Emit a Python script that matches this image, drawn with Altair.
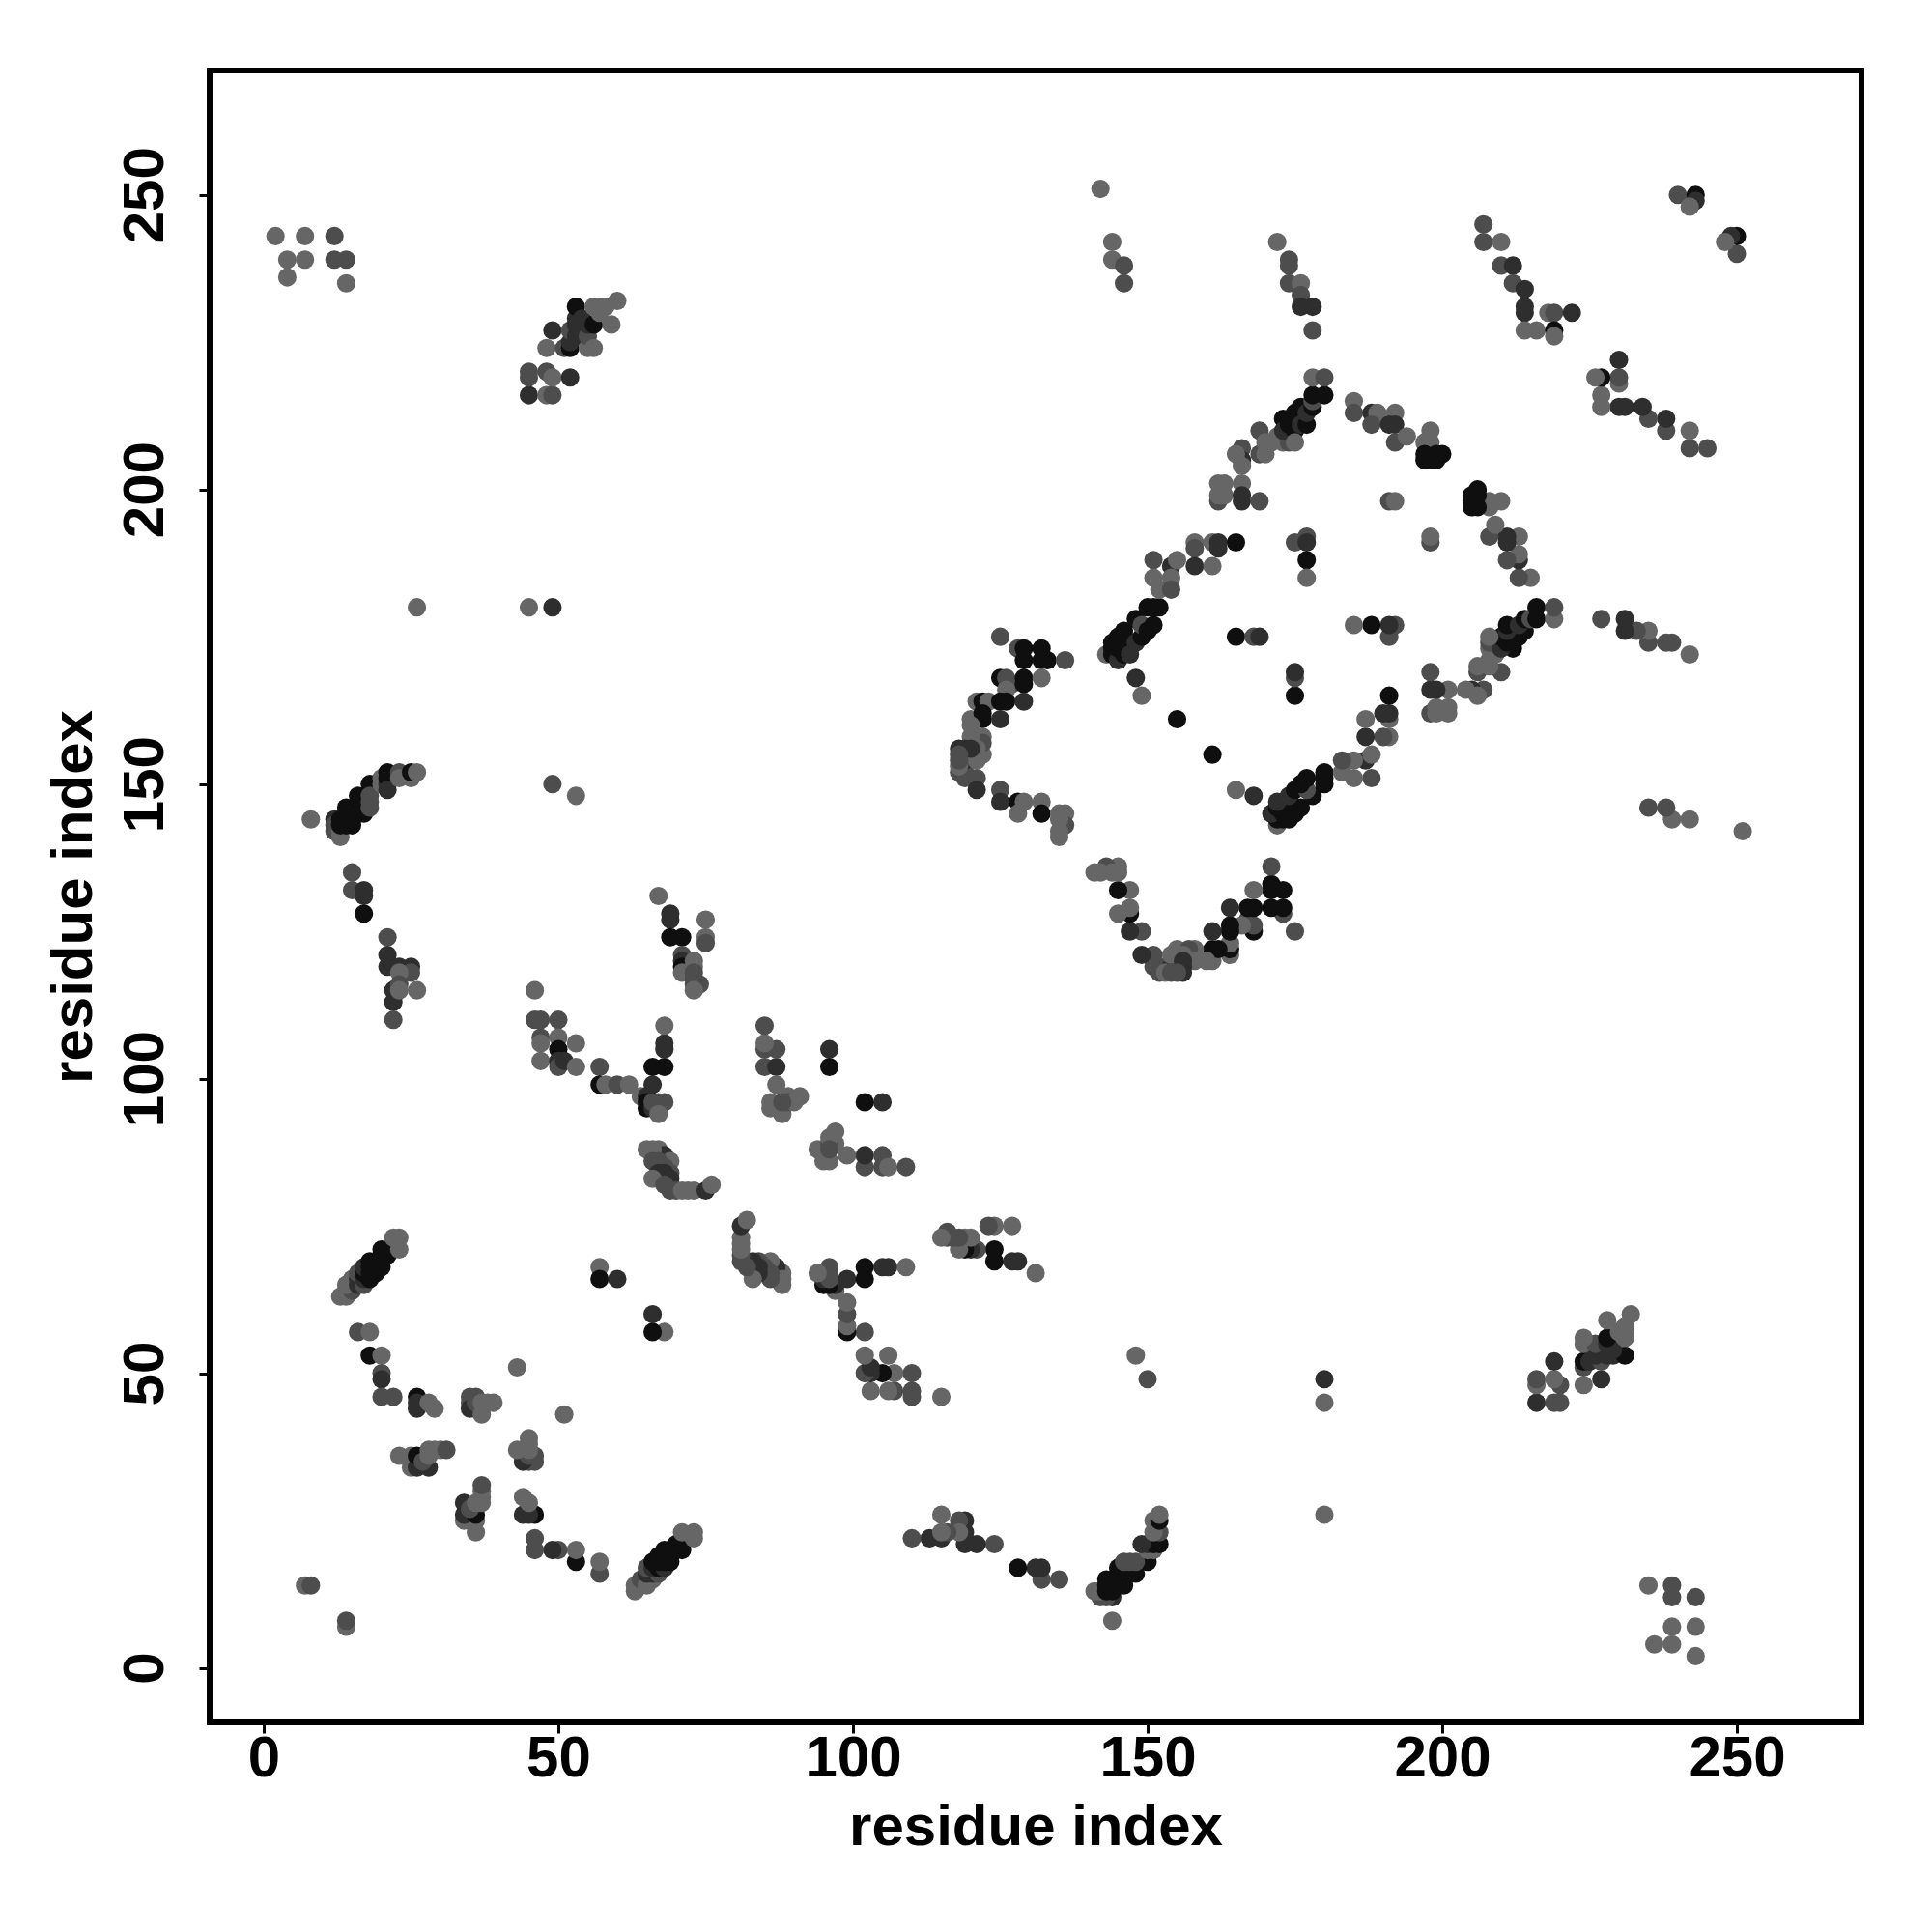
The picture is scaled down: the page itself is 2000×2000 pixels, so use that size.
import altair as alt
import pandas as pd

# contacts (residue i, residue j, shade level); the map is symmetric
corner_a = [(2,243,"L"),(4,239,"L"),(4,236,"L"),(7,243,"L"),(7,239,"L"),(12,243,"M"),(12,239,"M"),(14,239,"M"),(14,235,"L"),(7,14,"L"),(8,14,"M")]
helix_a = [(13,63,"L"),(14,63,"L"),(14,64,"L"),(15,64,"M"),(15,65,"M"),(15,66,"L"),(14,65,"L"),(16,65,"D"),(16,66,"D"),(16,67,"M"),(17,65,"M"),(17,66,"D"),(17,67,"K"),(17,68,"D"),(18,66,"K"),(18,67,"K"),(18,68,"K"),(18,69,"K"),(19,67,"K"),(19,68,"K"),(19,69,"K"),(20,68,"K"),(20,69,"K"),(20,70,"K"),(20,71,"K"),(21,70,"K"),(21,71,"K"),(22,71,"K"),(22,73,"L"),(23,71,"L"),(23,73,"L")]
arc_a = [(16,57,"M"),(18,57,"L"),(18,53,"K"),(20,53,"L"),(20,50,"M"),(20,49,"D"),(20,46,"M"),(22,46,"M"),(26,46,"K"),(26,45,"D"),(26,44,"D"),(28,45,"L"),(29,44,"L"),
         (35,46,"M"),(36,46,"M"),(35,45,"M"),(35,44,"D"),(36,44,"D"),(36,45,"M"),(37,45,"L"),(37,43,"L"),(38,45,"L"),(39,45,"L"),(43,51,"L")]
arc_b = [(23,36,"L"),(25,36,"L"),(25,34,"L"),(26,34,"D"),(26,36,"K"),(28,34,"D"),(27,35,"M"),(28,36,"L"),(28,37,"L"),(29,37,"L"),(30,37,"L"),(31,37,"M")]
pair_a = [(57,68,"L"),(57,66,"K"),(60,66,"D")]
strand_a = [(8,144,"L"),(12,144,"D"),(12,143,"M"),(12,142,"M"),(13,141,"L"),(13,142,"L"),(13,143,"K"),(13,144,"K"),(14,146,"K"),(14,145,"K"),(14,143,"K"),(15,143,"K"),(15,145,"K"),(16,148,"K"),(16,145,"K"),(17,145,"K"),(17,146,"K"),(18,146,"M"),(18,147,"M"),(18,150,"K"),(18,148,"M"),(20,150,"L"),(20,151,"L"),(21,150,"D"),(21,152,"K"),(21,151,"K"),(21,149,"D"),(23,152,"M"),(23,151,"L"),(25,151,"L"),(25,152,"K"),(26,152,"L"),(49,150,"M"),(53,148,"L")]
strand_b = [(15,135,"M"),(15,132,"M"),(17,132,"D"),(17,131,"D"),(17,128,"K"),(21,124,"M"),(21,121,"D"),(21,119,"D"),(23,119,"D"),(25,119,"D"),(25,118,"M"),(23,118,"L"),(22,115,"D"),(22,113,"D"),(22,110,"M"),(23,116,"M"),(23,115,"L"),(26,115,"L")]
strand_c = [(46,115,"L"),(46,110,"M"),(47,110,"M"),(50,110,"M"),(47,107,"M"),(47,106,"L"),(47,103,"L"),(50,107,"L"),(50,105,"K"),(53,106,"L"),(50,103,"D"),(50,102,"M"),(51,103,"D"),(53,102,"L")]
strand_d = [(57,102,"M"),(57,99,"K"),(58,99,"L"),(60,99,"M"),(62,99,"L"),(64,97,"L"),(65,97,"D"),(65,96,"K"),(65,95,"K"),(66,95,"D"),(66,96,"M"),(67,96,"M"),(68,96,"M"),(67,95,"M"),(67,94,"L"),(66,99,"D"),(66,102,"K"),(68,102,"K"),(68,105,"D"),(68,106,"D"),(68,109,"L")]
strand_e = [(85,109,"L"),(85,106,"L"),(85,105,"M"),(87,105,"M"),(85,102,"M"),(87,102,"D"),(87,99,"L"),(86,96,"L"),(86,95,"L"),(88,94,"L"),(88,95,"M"),(89,97,"L"),(90,96,"L"),(91,97,"L"),(96,105,"D"),(96,102,"K"),(88,96,"L"),(89,96,"M")]
strand_f = [(65,88,"L"),(67,88,"L"),(68,87,"D"),(69,86,"L"),(66,88,"L"),(66,87,"L"),(66,86,"M"),(67,86,"M"),(68,85,"M"),(67,85,"M"),(67,84,"D"),(67,83,"L"),(69,84,"M"),(68,84,"D"),(69,83,"D"),(66,83,"L"),(68,82,"M"),(69,81,"M"),(70,81,"M"),(71,81,"L"),(72,81,"L"),(73,81,"L"),(75,81,"D"),(76,82,"L")]
strand_g = [(67,131,"L"),(69,128,"D"),(69,127,"D"),(69,124,"K"),(71,124,"K"),(75,127,"L"),(75,124,"L"),(75,123,"M"),(71,121,"M"),(71,120,"D"),(71,119,"K"),(71,118,"L"),(73,120,"L"),(73,119,"L"),(73,118,"M"),(73,117,"M"),(74,116,"M"),(73,116,"M"),(73,115,"L")]
strand_h = [(85,102,"M"),(87,102,"D"),(85,105,"M"),(87,105,"M"),(85,106,"L"),(85,109,"M"),(87,99,"L"),(88,94,"L"),(89,96,"M"),(90,96,"L"),(91,97,"L"),(86,95,"L"),(86,96,"L"),(88,96,"M")]
block_a = [(45,216,"D"),(45,220,"M"),(45,219,"M"),(48,220,"M"),(48,216,"L"),(49,216,"M"),(49,219,"L"),(52,219,"D"),(48,224,"L"),(49,227,"D"),(51,224,"M"),(52,224,"K"),(52,225,"D"),(52,227,"M"),(53,226,"D"),(53,229,"D"),(53,231,"K"),(53,228,"D"),(54,227,"D"),(54,229,"D"),(55,224,"L"),(55,226,"M"),(55,228,"D"),(56,228,"K"),(56,224,"L"),(56,231,"L"),(57,231,"L"),(57,230,"L"),(58,231,"L"),(59,228,"L"),(60,232,"L")]
far_a = [(26,180,"L"),(45,180,"L"),(49,180,"D"),(142,251,"L"),(144,242,"L"),(144,239,"L"),(146,238,"M"),(146,235,"M"),(172,242,"L"),(174,239,"M"),(174,238,"M"),(174,235,"M"),(176,235,"L"),(176,233,"M"),(176,231,"D"),(178,231,"D"),(178,227,"M")]
far_b = [(207,245,"M"),(207,242,"M"),(210,242,"L"),(210,238,"M"),(212,238,"D"),(212,235,"M"),(214,234,"D"),(214,231,"D"),(214,230,"D"),(214,227,"L"),(216,227,"L"),(218,230,"L"),(219,230,"M"),(219,227,"K"),(219,226,"L"),(222,230,"D"),(240,250,"M"),(243,250,"K"),(243,249,"D"),(242,248,"L")]
loop_a = [(125,175,"M"),(128,173,"M"),(129,173,"K"),(129,171,"K"),(132,173,"K"),(132,171,"K"),(133,171,"K"),(136,171,"M"),(125,168,"K"),(126,168,"M"),(127,167,"M"),(129,168,"K"),(129,167,"K"),(132,168,"L"),(126,166,"L"),(121,164,"L"),(122,164,"K"),(123,164,"L"),(125,164,"K"),(126,164,"K"),(129,164,"D"),(120,161,"L"),(122,161,"K"),(125,161,"D"),(122,162,"K"),(120,160,"L"),(122,158,"L"),(120,157,"D"),(118,156,"M"),(118,155,"D"),(118,154,"L"),(122,155,"L"),(120,155,"L"),(122,157,"M"),(119,153,"M"),(119,151,"M"),(121,151,"M"),(121,149,"D"),(125,149,"M"),(125,147,"D"),(128,147,"K"),(129,147,"L"),(128,145,"L"),(132,147,"L"),(132,145,"K"),(135,145,"L"),(136,145,"L"),(136,143,"M"),(135,144,"L"),(135,142,"L"),(135,141,"L")]
loop_b = [(118,152,"M"),(119,154,"D"),(118,153,"L"),(118,156,"D"),(119,155,"M"),(121,154,"L"),(121,155,"L"),(121,156,"L"),(120,158,"L"),(118,154,"M"),(119,156,"D"),(120,156,"D"),(118,155,"M")]
diamond_a = [(143,172,"L"),(144,173,"K"),(144,172,"K"),(144,174,"K"),(145,171,"D"),(145,173,"K"),(145,175,"K"),(146,172,"K"),(146,175,"K"),(146,176,"K"),(147,174,"K"),(147,172,"D"),(148,174,"D"),(148,178,"K"),(149,175,"K"),(149,177,"M"),(150,176,"K"),(150,180,"K"),(151,177,"K"),(151,180,"K"),(152,180,"K"),(148,168,"D"),(149,165,"L"),(151,188,"M"),(151,185,"L"),(152,183,"L"),(154,187,"D"),(154,185,"L"),(154,183,"M"),(155,188,"L"),(158,191,"L"),(158,190,"M"),(158,187,"D"),(161,187,"L"),(161,191,"L"),(162,191,"D"),(162,190,"D"),(165,191,"K"),(155,161,"K")]
diamond_b = [(165,175,"K"),(168,175,"M"),(169,175,"D"),(175,191,"M"),(177,192,"M"),(177,191,"D"),(177,188,"K"),(177,185,"L")]
diamond_c = [(162,198,"M"),(162,201,"L"),(163,201,"L"),(162,199,"L"),(163,199,"L"),(166,201,"L"),(166,198,"D"),(169,198,"M"),(166,199,"D"),(166,207,"M"),(166,205,"D"),(165,206,"L"),(166,204,"L"),(169,210,"M"),(169,206,"M"),(170,208,"L"),(170,206,"L"),(171,208,"L"),(172,209,"L"),(173,208,"L"),(174,208,"M"),(173,212,"K"),(173,210,"D"),(175,213,"K"),(174,211,"K"),(175,210,"K"),(176,211,"D"),(176,214,"K"),(177,211,"K"),(177,213,"D"),(178,214,"K"),(178,215,"M"),(178,216,"K"),(180,216,"K"),(178,219,"L"),(180,219,"M"),(175,208,"L")]
diamond_d = [(185,215,"L"),(185,213,"M"),(188,213,"D"),(189,213,"L"),(188,211,"M"),(192,213,"L"),(192,211,"D"),(191,211,"D"),(192,208,"M"),(194,209,"L"),(198,210,"L"),(198,208,"L"),(197,208,"L"),(197,205,"K"),(198,205,"K"),(199,205,"K"),(197,206,"K"),(200,206,"K"),(199,206,"K"),(191,198,"M"),(192,198,"L")]

groups = [corner_a, helix_a, arc_a, arc_b, pair_a, strand_a, strand_b, strand_c, strand_d, strand_e, strand_f, strand_g, strand_h, block_a, far_a, far_b, loop_a, loop_b, diamond_a, diamond_b, diamond_c, diamond_d]
shade_levels = ["K", "D", "M", "L"]
shade_colors = ["#0f0f0f", "#2e2e2e", "#4d4d4d", "#666666"]
x_ticks = [0, 50, 100, 150, 200, 250]
axis_title = "residue index"

rows = []
for g in groups:
    for i, j, s in g:
        rows.append({"x": i, "y": j, "s": s})
        rows.append({"x": j, "y": i, "s": s})
df = pd.DataFrame(rows).drop_duplicates(["x", "y"], keep="last")

font = "Liberation Sans"
def axis(**kw):
    return alt.Axis(values=x_ticks, grid=False, domain=False, ticks=True, tickSize=11, tickWidth=3, tickColor="black",
                    labelFont=font, labelFontSize=60, labelFontWeight="bold", labelColor="black",
                    titleFont=font, titleFontSize=60, titleFontWeight="bold", titleColor="black",
                    title=axis_title, **kw)

chart = alt.Chart(df).mark_circle(size=365, opacity=1).encode(
    x=alt.X("x:Q", scale=alt.Scale(domain=[-9.18, 271.15], nice=False, zero=False),
            axis=axis(labelPadding=-3, titlePadding=12)),
    y=alt.Y("y:Q", scale=alt.Scale(domain=[-9.25, 271.1], nice=False, zero=False),
            axis=axis(labelAngle=-90, labelAlign="center", labelBaseline="bottom", labelPadding=25, titlePadding=13)),
    color=alt.Color("s:N", scale=alt.Scale(domain=shade_levels, range=shade_colors), legend=None),
).properties(
    width=1710, height=1710,
    padding={"left": 209, "top": 65, "right": 60, "bottom": 200},
    autosize=alt.AutoSizeParams(type="none"),
    background="white",
).configure_view(stroke="black", strokeWidth=6)

chart.save("out.html", embed_options={"renderer": "svg", "actions": False})
